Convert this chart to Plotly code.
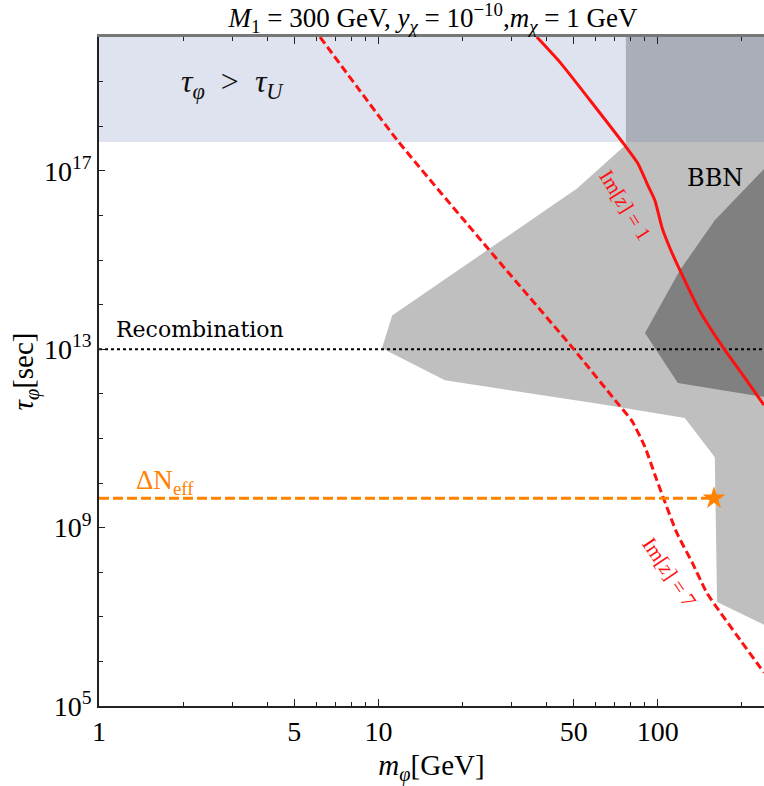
import numpy as np
import plotly.graph_objects as go

# ---------------- data ----------------
x_min, x_max = 1.0, 240.0
y_min_exp, y_max_exp = 5, 20
tau_universe = 4.4e17          # age of the universe [s]
tau_recomb = 1e13              # recombination [s]
tau_neff = 4.55e9              # Delta N_eff bound [s]
m_bbn_top = 76.9               # left edge of BBN region at top

# BBN (light gray) excluded region
bbn_m   = [76.9, 240, 240, 163, 160, 125, 62.1, 17.3, 10.3, 11.2, 51.4, 76.3, 76.9]
bbn_tau = [1e20, 1e20, 6.6e6, 2.16e7, 3.8e10, 2.85e11, 5.9e11, 2.0e12, 1.05e13, 5.7e13, 4.0e16, 3.7e17, 4.4e17]

# BBN (dark gray) stronger region
bbn2_m   = [240, 160, 120, 90, 118, 240]
bbn2_tau = [1.1e17, 7.8e15, 5.9e14, 2.3e13, 1.74e12, 8.5e11]

# Im[z] = 1 (solid)
im1_m   = [36.9, 44.7, 76.3, 84.9, 92.2, 97.7, 103.5, 110.6, 120, 141, 174, 208, 240]
im1_tau = [1e20, 2.7e19, 3.7e17, 1.46e17, 4.7e16, 2.17e16, 5.4e15, 1.83e15, 5.9e14, 7.4e13, 9.5e12, 2.0e12, 5.6e11]

# Im[z] = 7 (dashed)
im7_m   = [6.18, 11.7, 24.5, 49.7, 70.3, 80.9, 90.0, 97.7, 104.4, 117, 133, 150, 197, 240]
im7_tau = [1e20, 4.8e17, 1.9e15, 1.05e13, 7.2e11, 2.44e11, 6.4e10, 1.51e10, 4.9e9, 7.6e8, 1.62e8, 3.4e7, 3.06e6, 5.6e5]

# star point
star_m, star_tau = [159.0], [4.55e9]

# ticks
x_major = [1, 5, 10, 50, 100]
x_major_text = ["1", "5", "10", "50", "100"]
x_minor = [2, 3, 4, 6, 7, 8, 9, 20, 30, 40, 60, 70, 80, 90, 200]
y_major = [1e5, 1e9, 1e13, 1e17]
y_major_text = ["10<sup>5</sup>", "10<sup>9</sup>", "10<sup>13</sup>", "10<sup>17</sup>"]
y_minor = [10.0**k for k in range(6, 21) if k not in (9, 13, 17)]

SERIF = "Liberation Serif, Times New Roman, serif"
WIDE = "DejaVu Serif, serif"
RED = "#ff1010"
ORANGE = "#ff8200"

fig = go.Figure()

# tau > tau_U region (light blue), overlap with BBN (darker)
fig.add_trace(go.Scatter(x=[x_min, m_bbn_top, m_bbn_top, x_min, x_min],
                         y=[tau_universe, tau_universe, 1e20, 1e20, tau_universe],
                         fill="toself", fillcolor="#dee3ef", line=dict(width=0),
                         mode="lines", hoverinfo="skip", showlegend=False))
fig.add_trace(go.Scatter(x=bbn_m, y=bbn_tau, fill="toself", fillcolor="#bfbfbf",
                         line=dict(width=0), mode="lines", hoverinfo="skip", showlegend=False))
fig.add_trace(go.Scatter(x=[m_bbn_top, x_max, x_max, m_bbn_top, m_bbn_top],
                         y=[tau_universe, tau_universe, 1e20, 1e20, tau_universe],
                         fill="toself", fillcolor="#a9aeb9", line=dict(width=0),
                         mode="lines", hoverinfo="skip", showlegend=False))
fig.add_trace(go.Scatter(x=bbn2_m, y=bbn2_tau, fill="toself", fillcolor="#808080",
                         line=dict(width=0), mode="lines", hoverinfo="skip", showlegend=False))

# recombination dotted line
fig.add_trace(go.Scatter(x=[x_min, x_max], y=[tau_recomb, tau_recomb], mode="lines",
                         line=dict(color="black", width=2, dash="3px,3px"),
                         hoverinfo="skip", showlegend=False))

# Im[z] curves
fig.add_trace(go.Scatter(x=im1_m, y=im1_tau, mode="lines",
                         line=dict(color=RED, width=3, shape="spline", smoothing=0.5),
                         hoverinfo="skip", showlegend=False))
fig.add_trace(go.Scatter(x=im7_m, y=im7_tau, mode="lines",
                         line=dict(color=RED, width=3, dash="8px,4px", shape="spline", smoothing=0.5),
                         hoverinfo="skip", showlegend=False))

# Delta N_eff
fig.add_trace(go.Scatter(x=[x_min, star_m[0]], y=[tau_neff, tau_neff], mode="lines",
                         line=dict(color=ORANGE, width=3, dash="10px,4px"),
                         hoverinfo="skip", showlegend=False))
fig.add_trace(go.Scatter(x=star_m, y=star_tau, mode="markers",
                         marker=dict(symbol="star", size=17, color=ORANGE, line=dict(width=0)),
                         hoverinfo="skip", showlegend=False))

lg = np.log10
annotations = [
    dict(x=lg(3.0), y=lg(9.0e18), text="<i>τ</i><sub><i>φ</i></sub>  >  <i>τ</i><sub><i>U</i></sub>",
         font=dict(family=SERIF, size=32, color="#111"), xanchor="center", yanchor="middle"),
    dict(x=lg(160), y=lg(6.8e16), text="BBN",
         font=dict(family=WIDE, size=24, color="black"), xanchor="center", yanchor="middle"),
    dict(x=lg(1.13), y=lg(2.7e13), text="Recombination",
         font=dict(family=WIDE, size=22, color="black"), xanchor="left", yanchor="middle"),
    dict(x=lg(1.33), y=lg(1.05e10), text="ΔN<sub>eff</sub>",
         font=dict(family=SERIF, size=27, color=ORANGE), xanchor="left", yanchor="middle"),
    dict(x=lg(76.3), y=lg(1.7e16), text="Im[<i>z</i>] = 1", textangle=58,
         font=dict(family=SERIF, size=21, color=RED), xanchor="center", yanchor="middle"),
    dict(x=lg(109.6), y=lg(1.0e8), text="Im[<i>z</i>] = 7", textangle=56,
         font=dict(family=SERIF, size=21, color=RED), xanchor="center", yanchor="middle"),
]
for a in annotations:
    a.update(xref="x", yref="y", showarrow=False)

axis_common = dict(showgrid=False, zeroline=False, ticks="inside", tickcolor="#222",
                   tickfont=dict(family=SERIF, size=28, color="black"))

fig.update_layout(
    width=764, height=786,
    margin=dict(l=99, r=0, t=37, b=80),
    paper_bgcolor="white", plot_bgcolor="white",
    title=dict(text="<i>M</i><sub>1</sub> = 300 GeV, <i>y</i><sub><i>χ</i></sub> = 10<sup>−10</sup>,"
                    "<i>m</i><sub><i>χ</i></sub> = 1 GeV",
               x=433 / 764, xanchor="center", y=1 - 18 / 786, yanchor="middle",
               font=dict(family=SERIF, size=27, color="black")),
    xaxis=dict(type="log", range=[lg(x_min), lg(x_max)], tickvals=x_major, ticktext=x_major_text,
               ticklen=7, linecolor="#222", linewidth=1.5, showline=True, mirror=False,
               minor=dict(tickvals=x_minor, ticklen=4, ticks="inside", tickcolor="#222"),
               title=dict(text="<i>m</i><sub><i>φ</i></sub>[GeV]", font=dict(family=SERIF, size=29, color="black"),
                          standoff=10),
               **axis_common),
    xaxis2=dict(type="log", range=[lg(x_min), lg(x_max)], overlaying="x", side="top",
                tickvals=x_major, ticklen=7, showticklabels=False, showline=True,
                linecolor="#777", linewidth=2.5, showgrid=False, zeroline=False,
                ticks="inside", tickcolor="#222",
                minor=dict(tickvals=x_minor, ticklen=4, ticks="inside", tickcolor="#222")),
    yaxis=dict(type="log", range=[y_min_exp, y_max_exp], tickvals=y_major, ticktext=y_major_text,
               ticklen=6, linecolor="#222", linewidth=1.5, showline=True, mirror=False,
               minor=dict(tickvals=y_minor, ticklen=4, ticks="inside", tickcolor="#222"),
               title=dict(text="<i>τ</i><sub><i>φ</i></sub>[sec]", font=dict(family=SERIF, size=29, color="black"),
                          standoff=2),
               **axis_common),
    annotations=annotations,
)

# dummy trace to activate the top axis
fig.add_trace(go.Scatter(x=[x_min], y=[1e5], xaxis="x2", mode="markers",
                         marker=dict(opacity=0), hoverinfo="skip", showlegend=False))

fig.write_html("out.html")
